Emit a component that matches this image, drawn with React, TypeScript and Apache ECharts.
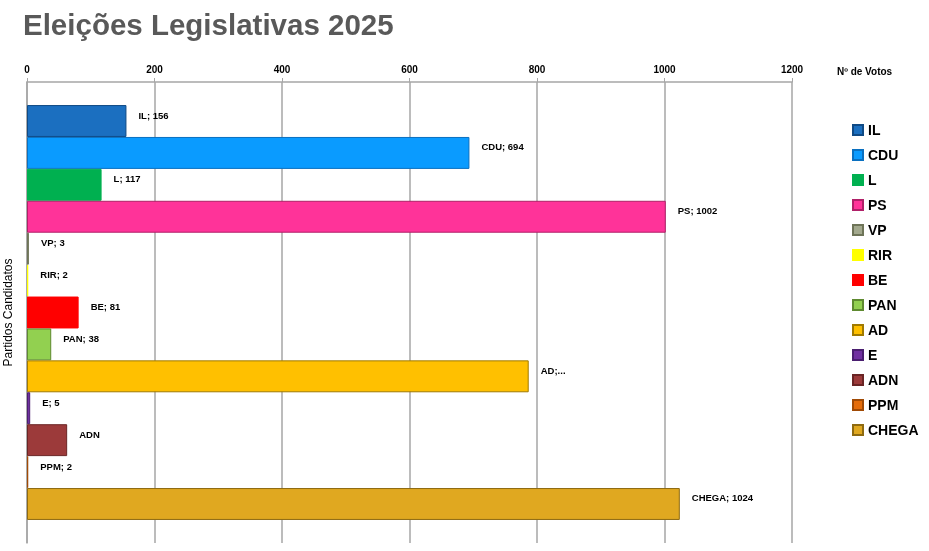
import React, { useEffect, useRef } from "react";
import * as echarts from "echarts";

const parties = ["IL", "CDU", "L", "PS", "VP", "RIR", "BE", "PAN", "AD", "E", "ADN", "PPM", "CHEGA"];
const votes = [156, 694, 117, 1002, 3, 2, 81, 38, 787, 5, 63, 2, 1024];
const labelTexts = ["IL; 156", "CDU; 694", "L; 117", "PS; 1002", "VP; 3", "RIR; 2", "BE; 81", "PAN; 38", "AD;...", "E; 5", "ADN", "PPM; 2", "CHEGA; 1024"];
const xTicks = { min: 0, max: 1200, interval: 200 };
const categories = ["Partidos"];

const colors = ["#1B6FC0", "#0A9BFF", "#00B050", "#FF3399", "#A3A98E", "#FFFF00", "#FF0000", "#92D050", "#FFC000", "#7030A0", "#9C3A3A", "#E46C0A", "#E0A820"];
const borders = ["#0F4A85", "#0A70C0", "#00B050", "#B02068", "#6E7458", "#FFFF00", "#FF0000", "#5E8A30", "#A07A00", "#4A1E70", "#6A2424", "#A04A05", "#8E6A10"];

const FONT = "'Liberation Sans', 'Noto Sans', sans-serif";

export default function App() {
  const ref = useRef<HTMLDivElement>(null);
  useEffect(() => {
    document.body.style.margin = "0";
    const chart = echarts.init(ref.current!, undefined, { renderer: "svg" });
    const series = parties.map((p, i) => ({
      type: "bar",
      name: p,
      data: [votes[i]],
      barGap: "0%",
      barCategoryGap: "10%",
      itemStyle: { color: colors[i], borderColor: borders[i], borderWidth: 1 },
      label: {
        show: true,
        position: "right",
        distance: 12,
        offset: [0, -6],
        formatter: () => labelTexts[i],
        color: "#000",
        fontWeight: "bold",
        fontSize: 9.5,
        fontFamily: FONT,
      },
    }));
    chart.setOption({
      animation: false,
      textStyle: { fontFamily: FONT },
      title: {
        text: "Eleições Legislativas 2025",
        left: 18,
        top: 4,
        textStyle: { fontSize: 29.5, fontWeight: "bold", color: "#595959", fontFamily: FONT },
      },
      legend: {
        orient: "vertical",
        left: 847,
        top: 118,
        icon: "rect",
        itemWidth: 10,
        itemHeight: 10,
        itemGap: 11,
        data: parties,
        textStyle: { fontSize: 14, fontWeight: "bold", color: "#000", fontFamily: FONT },
      },
      grid: { left: 27, right: 137, top: 82, bottom: 8, containLabel: false, outerBoundsMode: "none" },
      xAxis: {
        type: "value",
        position: "top",
        min: xTicks.min,
        max: xTicks.max,
        interval: xTicks.interval,
        name: "Nº de Votos",
        nameLocation: "end",
        nameGap: 45,
        nameTextStyle: { fontSize: 10, fontWeight: "bold", color: "#000", verticalAlign: "bottom", padding: [0, 0, 6, 0] },
        axisLine: { show: true, lineStyle: { color: "#A6A6A6", width: 1.5 } },
        axisTick: { show: true, length: 4, lineStyle: { color: "#A6A6A6" } },
        axisLabel: { fontSize: 10, fontWeight: "bold", color: "#000", margin: 8, formatter: (v: number) => String(v) },
        splitLine: { show: true, lineStyle: { color: "#A6A6A6", width: 1.5 } },
      },
      yAxis: {
        type: "category",
        inverse: true,
        data: categories,
        name: "Partidos Candidatos",
        nameLocation: "middle",
        nameRotate: 90,
        nameGap: 13,
        nameTextStyle: { fontSize: 12, color: "#000", padding: [0, 0, 0, 0] },
        axisLine: { show: true, lineStyle: { color: "#A6A6A6", width: 1.5 } },
        axisTick: { show: false },
        axisLabel: { show: false },
      },
      series,
    });
    return () => chart.dispose();
  }, []);
  return <div ref={ref} style={{ position: "fixed", left: 0, top: 0, width: 929, height: 551 }} />;
}
